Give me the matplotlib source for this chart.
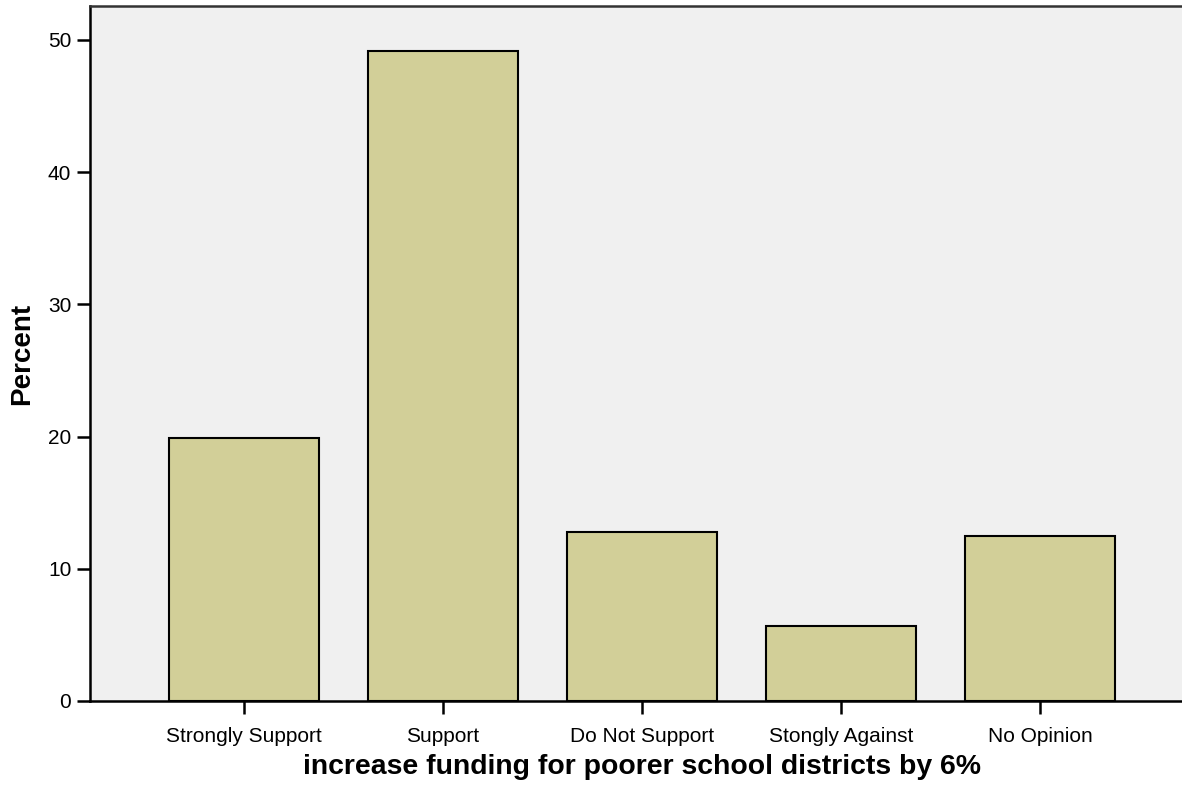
import matplotlib.pyplot as plt

# values
categories = ['Strongly Support', 'Support', 'Do Not Support', 'Stongly Against', 'No Opinion']
percents = [19.9, 49.2, 12.8, 5.7, 12.5]

plt.rcParams['font.family'] = ['Liberation Sans', 'DejaVu Sans']

fig = plt.figure(figsize=(11.82, 7.92), dpi=100)
W, H = 1182, 792
left, right, top, bottom = 90, 1194, 6, 701
ax = fig.add_axes([left / W, 1 - bottom / H, (right - left) / W, (bottom - top) / H])
ax.set_facecolor('#f0f0f0')

x = range(len(categories))
ax.bar(x, percents, width=0.75, color='#d2cf98', edgecolor='black', linewidth=1.5, zorder=2)

ax.set_xlim(-0.774, 4.774)
ax.set_ylim(0, 52.57)
ax.set_yticks([0, 10, 20, 30, 40, 50])
ax.set_xticks(list(x))
ax.set_xticklabels(categories)

for s in ['left', 'bottom']:
    ax.spines[s].set_linewidth(1.8)
ax.spines['top'].set_linewidth(1.8)
ax.spines['top'].set_color('#333333')
ax.spines['right'].set_visible(False)

ax.tick_params(axis='both', direction='out', length=9.5, width=1.8, labelsize=15)
ax.tick_params(axis='y', pad=4)
ax.tick_params(axis='x', pad=9)

ax.set_ylabel('Percent', fontsize=20, fontweight='bold', labelpad=9)
ax.set_xlabel('increase funding for poorer school districts by 6%', fontsize=20.4,
              fontweight='bold', labelpad=6)

fig.savefig('out.png', dpi=100)
